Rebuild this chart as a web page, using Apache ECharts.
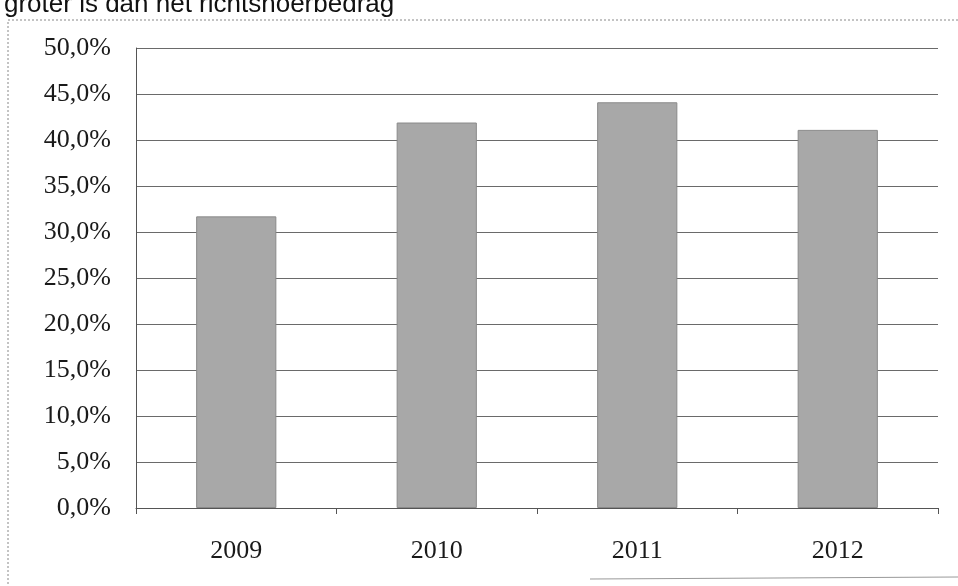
<!DOCTYPE html>
<html>
<head>
<meta charset="utf-8">
<script src="https://cdn.jsdelivr.net/npm/echarts@6/dist/echarts.min.js"></script>
<style>
  html,body{margin:0;padding:0;background:#fff;}
  #chart{width:958px;height:586px;}
</style>
</head>
<body>
<div id="chart"></div>
<script>
const years = ['2009', '2010', '2011', '2012']
const shares = [31.7, 41.9, 44.1, 41.1]
const titleText = 'groter is dan het richtsnoerbedrag'

const myChart = echarts.init(document.getElementById('chart'))

const labelFont = 'Liberation Serif, DejaVu Serif, serif'

myChart.setOption({
    animation: false,
    backgroundColor: '#fff',
    title: {
        text: titleText,
        left: -1,
        top: -13,
        textStyle: {
            fontFamily: 'Liberation Sans, Arial',
            fontSize: 26,
            fontWeight: 'normal',
            color: '#111',
        },
    },
    grid: {
        left: 136,
        right: 20,
        top: 48,
        bottom: 78,
    },
    xAxis: {
        type: 'category',
        data: years,
        axisLine: {lineStyle: {color: '#555', width: 1}},
        axisTick: {show: true, length: 6, lineStyle: {color: '#555'}},
        axisLabel: {
            margin: 30,
            fontFamily: labelFont,
            fontSize: 26,
            color: '#1a1a1a',
        },
    },
    yAxis: {
        type: 'value',
        min: 0,
        max: 50,
        interval: 5,
        axisLine: {show: true, lineStyle: {color: '#555', width: 1}},
        axisTick: {show: false},
        splitLine: {lineStyle: {color: '#6a6a6a', width: 1}},
        axisLabel: {
            margin: 25,
            fontFamily: labelFont,
            fontSize: 26,
            color: '#1a1a1a',
            formatter: v => v.toFixed(1).replace('.', ',') + '%',
        },
    },
    series: [{
        type: 'bar',
        data: shares,
        barWidth: '40%',
        itemStyle: {color: '#a8a8a8', borderColor: '#8a8a8a', borderWidth: 1},
    }],
    graphic: [{
        // gestippelde rand van de scan
        type: 'polyline',
        shape: {points: [[958, 20], [8, 20], [8, 586]]},
        style: {stroke: '#888', lineWidth: 1, lineDash: [2, 2], fill: null},
        silent: true,
    }, {
        type: 'line',
        shape: {x1: 590, y1: 579, x2: 958, y2: 577},
        style: {stroke: '#999', lineWidth: 1},
        silent: true,
    }],
})
</script>
</body>
</html>
